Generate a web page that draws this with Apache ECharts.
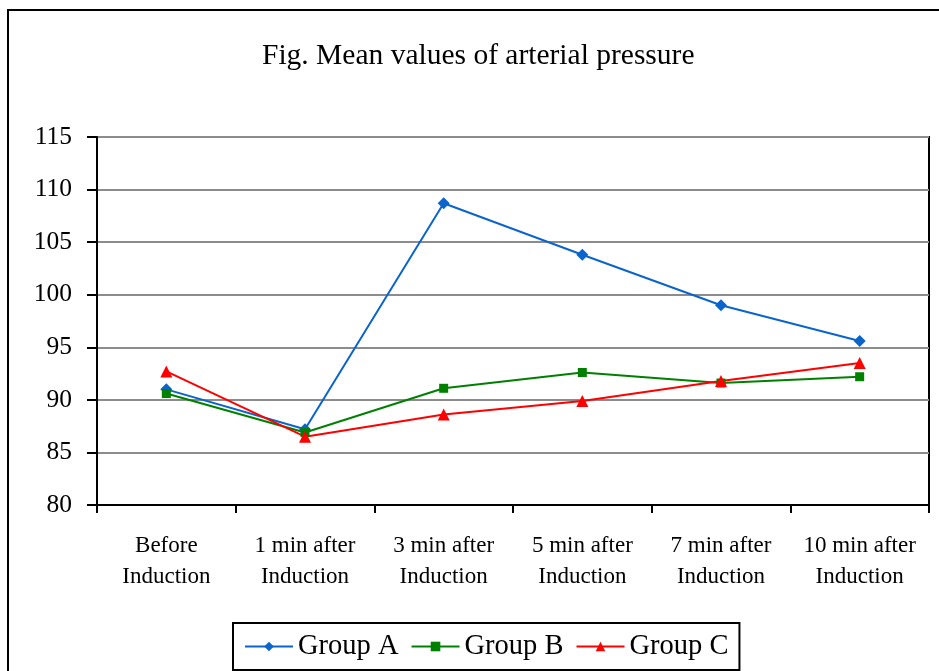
<!DOCTYPE html>
<html>
<head>
<meta charset="utf-8">
<script src="https://cdn.jsdelivr.net/npm/echarts@6/dist/echarts.min.js"></script>
<style>
html,body{margin:0;padding:0;background:#fff;}
#chart{width:939px;height:671px;}
</style>
</head>
<body>
<div id="chart"></div>
<script>
const titleText = 'Fig. Mean values of arterial pressure';
const categories = ['Before\nInduction', '1 min after\nInduction', '3 min after\nInduction', '5 min after\nInduction', '7 min after\nInduction', '10 min after\nInduction'];
const groupA = [91.0, 87.2, 108.7, 103.8, 99.0, 95.6];
const groupB = [90.6, 86.9, 91.1, 92.6, 91.6, 92.2];
const groupC = [92.7, 86.5, 88.6, 89.9, 91.8, 93.5];
const seriesNames = ['Group A', 'Group B', 'Group C'];
const yMin = 80, yMax = 115, yStep = 5;

const font = '"Liberation Serif", "Times New Roman", serif';
const chart = echarts.init(document.getElementById('chart'));
chart.setOption({
  backgroundColor: '#fff',
  animation: false,
  textStyle: { fontFamily: font, color: '#000' },
  title: {
    text: titleText,
    left: 257,
    top: 36,
    textStyle: { fontFamily: font, fontSize: 29.5, fontWeight: 'normal', color: '#000' }
  },
  graphic: [{
    type: 'rect',
    shape: { x: 8, y: 10, width: 960, height: 700 },
    style: { fill: 'none', stroke: '#000', lineWidth: 2 },
    silent: true
  }],
  legend: {
    left: 233, top: 623,
    padding: [9, 11, 9, 11],
    borderColor: '#000', borderWidth: 2,
    itemWidth: 48, itemHeight: 12, itemGap: 12,
    textStyle: { fontFamily: font, fontSize: 28.5, color: '#000', padding: [2, 0, 0, 0] },
    data: seriesNames
  },
  grid: {
    left: 97, right: 10, top: 137, bottom: 166,
    show: true, borderColor: '#000', borderWidth: 2, backgroundColor: 'transparent'
  },
  xAxis: {
    type: 'category',
    data: categories,
    boundaryGap: true,
    axisLine: { lineStyle: { color: '#000', width: 2 } },
    axisTick: { show: true, length: 8, lineStyle: { color: '#000', width: 2 } },
    axisLabel: { fontFamily: font, fontSize: 23, color: '#000', lineHeight: 31, margin: 25, interval: 0 }
  },
  yAxis: {
    type: 'value',
    min: yMin, max: yMax, interval: yStep,
    axisLine: { show: true, lineStyle: { color: '#000', width: 2 } },
    axisTick: { show: true, length: 10, lineStyle: { color: '#000', width: 2 } },
    axisLabel: { fontFamily: font, fontSize: 25.5, color: '#000', margin: 25 },
    splitLine: { show: true, lineStyle: { color: '#8c8c8c', width: 2 } }
  },
  series: [
    { name: seriesNames[0], type: 'line', data: groupA, symbol: 'diamond', symbolSize: 12,
      itemStyle: { color: '#0a64cc' }, lineStyle: { color: '#0a64cc', width: 2 } },
    { name: seriesNames[1], type: 'line', data: groupB, symbol: 'rect', symbolSize: 9,
      itemStyle: { color: '#008000' }, lineStyle: { color: '#008000', width: 2 } },
    { name: seriesNames[2], type: 'line', data: groupC, symbol: 'triangle', symbolSize: 12,
      itemStyle: { color: '#ff0000' }, lineStyle: { color: '#ff0000', width: 2 } }
  ]
});
</script>
</body>
</html>
